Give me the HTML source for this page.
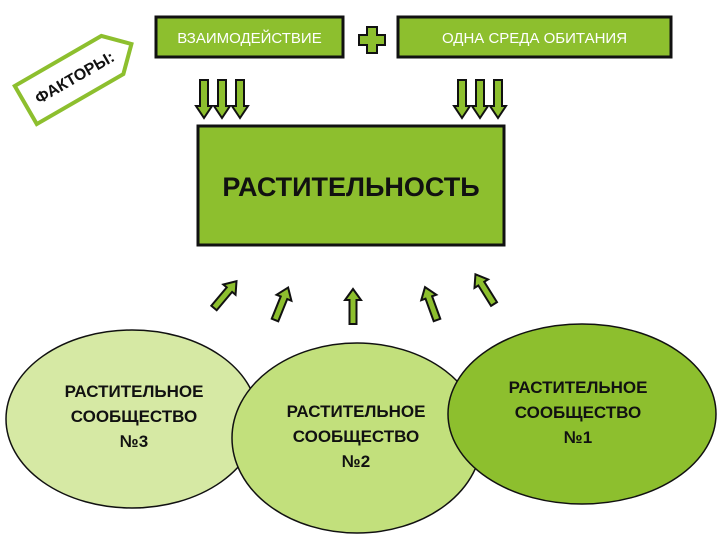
<!DOCTYPE html>
<html><head><meta charset="utf-8"><style>body{margin:0;background:#fff}svg{display:block}</style></head><body>
<svg width="720" height="540" viewBox="0 0 720 540" xmlns="http://www.w3.org/2000/svg" font-family="'Liberation Sans','DejaVu Sans',sans-serif" font-weight="bold">
<defs>
<g id="da"><polygon points="-4,0 4,0 4,26 8,26 0,38 -8,26 -4,26" fill="#8dbf2e" stroke="#111" stroke-width="2"/></g>
<g id="ua"><polygon points="-3.5,0 3.5,0 3.5,-24 8,-24 0,-35 -8,-24 -3.5,-24" fill="#8dbf2e" stroke="#111" stroke-width="2"/></g>
</defs>
<g transform="translate(76,76) rotate(-30)">
<polygon points="-58,-22 42,-22 64,0 42,22 -58,22" fill="#fff" stroke="#8dbf2e" stroke-width="4"/>
<text x="-2" y="6" font-size="16" text-anchor="middle" fill="#111">ФАКТОРЫ:</text>
</g>
<rect x="156" y="17" width="187" height="40" fill="#8dbf2e" stroke="#111" stroke-width="3"/>
<text x="249.5" y="43" font-size="15" fill="#fff" text-anchor="middle" font-weight="normal">ВЗАИМОДЕЙСТВИЕ</text>
<rect x="398" y="17" width="273" height="40" fill="#8dbf2e" stroke="#111" stroke-width="3"/>
<text x="534.5" y="43" font-size="15" fill="#fff" text-anchor="middle" font-weight="normal">ОДНА СРЕДА ОБИТАНИЯ</text>
<polygon points="367,27 377,27 377,35 385,35 385,45 377,45 377,53 367,53 367,45 359,45 359,35 367,35" fill="#8dbf2e" stroke="#111" stroke-width="2"/>
<use href="#da" x="204" y="80"/><use href="#da" x="222" y="80"/><use href="#da" x="240" y="80"/>
<use href="#da" x="462" y="80"/><use href="#da" x="480" y="80"/><use href="#da" x="498" y="80"/>
<rect x="198" y="126" width="306" height="119" fill="#8dbf2e" stroke="#111" stroke-width="3"/>
<text x="351" y="196" font-size="27" fill="#111" text-anchor="middle">РАСТИТЕЛЬНОСТЬ</text>
<use href="#ua" transform="translate(214,308) rotate(40)"/>
<use href="#ua" transform="translate(275,320) rotate(22)"/>
<use href="#ua" transform="translate(353,324)"/>
<use href="#ua" transform="translate(437,320) rotate(-20)"/>
<use href="#ua" transform="translate(494,304) rotate(-32)"/>
<ellipse cx="132" cy="419" rx="126" ry="89" fill="#d6e9a4" stroke="#111" stroke-width="1.5"/>
<ellipse cx="357" cy="438" rx="125" ry="95" fill="#c2e07c" stroke="#111" stroke-width="1.5"/>
<ellipse cx="582" cy="414" rx="134" ry="90" fill="#8dbf2e" stroke="#111" stroke-width="1.5"/>
<g font-size="17" fill="#111" text-anchor="middle">
<text x="134" y="397">РАСТИТЕЛЬНОЕ</text><text x="134" y="422">СООБЩЕСТВО</text><text x="134" y="447">№3</text>
<text x="356" y="417">РАСТИТЕЛЬНОЕ</text><text x="356" y="442">СООБЩЕСТВО</text><text x="356" y="467">№2</text>
<text x="578" y="393">РАСТИТЕЛЬНОЕ</text><text x="578" y="418">СООБЩЕСТВО</text><text x="578" y="443">№1</text>
</g>
</svg>
</body></html>
